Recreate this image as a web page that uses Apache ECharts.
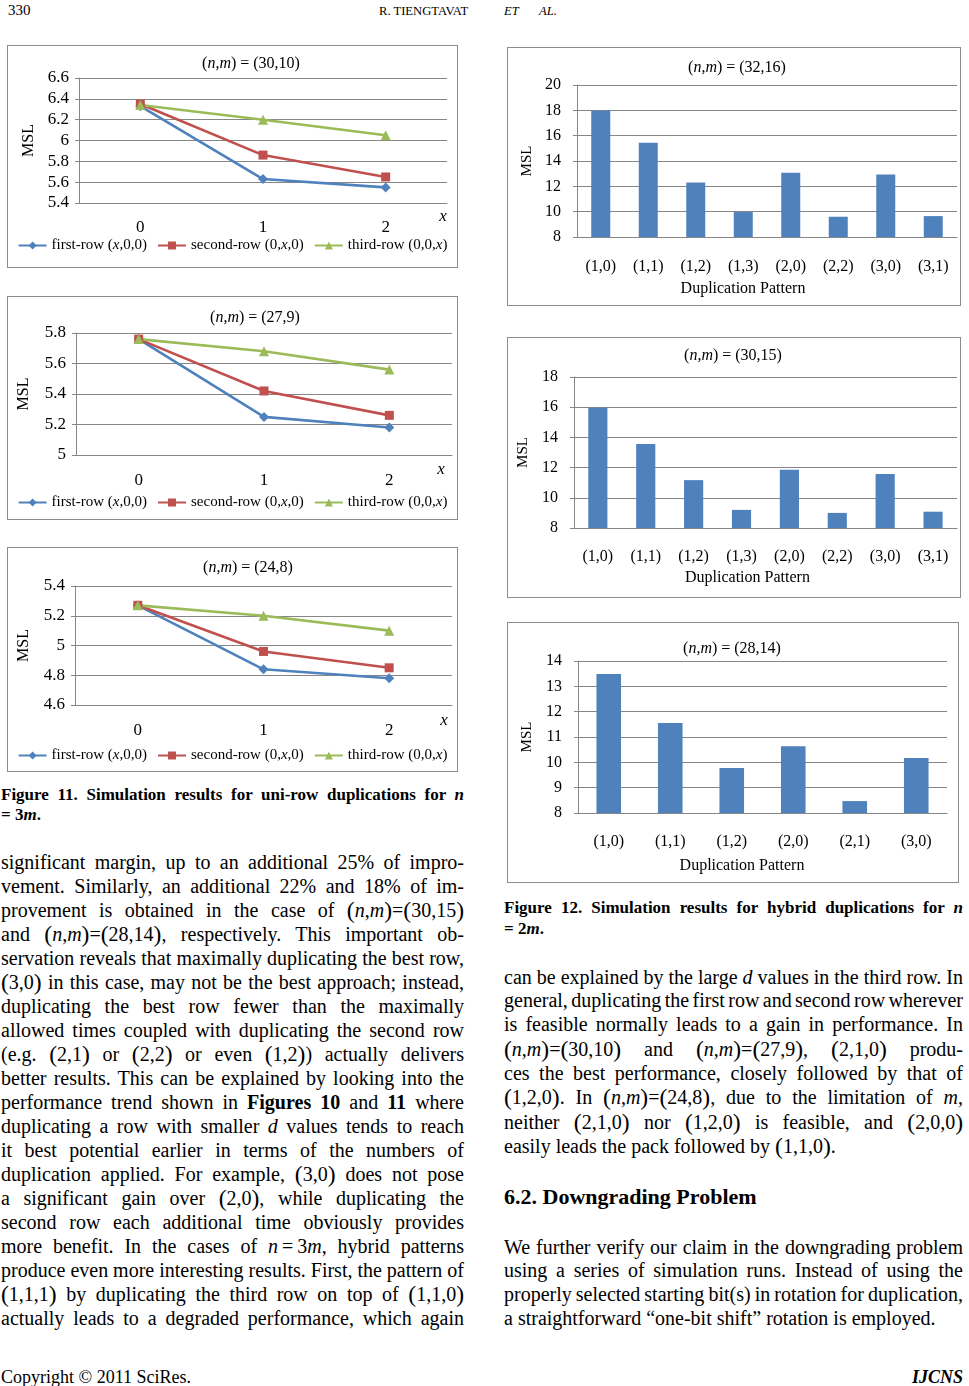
<!DOCTYPE html>
<html>
<head>
<meta charset="utf-8">
<script src="https://cdn.jsdelivr.net/npm/echarts/dist/echarts.min.js"></script>
<style>
  html,body{margin:0;padding:0;}
  body{width:969px;height:1386px;background:#fff;position:relative;overflow:hidden;
       font-family:'Liberation Serif','Times New Roman',serif;color:#000;}
  .box{position:absolute;border:1px solid #8c8c8c;box-sizing:border-box;}
  .ln{position:absolute;height:24px;line-height:24px;font-size:20px;white-space:nowrap;text-align:left;}
  .cap{font-size:17px;font-weight:bold;}
  .L{left:1px;width:463px;}
  .R{left:504px;width:459px;}
  .pa{font-size:1.18em;line-height:0;vertical-align:-0.04em;}
  .hd{position:absolute;font-size:22px;font-weight:bold;line-height:26px;}
  .abs{position:absolute;white-space:nowrap;}
</style>
</head>
<body>
<div class="abs" style="left:8px;top:1px;font-size:15px;line-height:18px;">330</div>
<div class="abs" style="left:379px;top:2px;font-size:12.6px;line-height:18px;">R. TIENGTAVAT</div>
<div class="abs" style="left:504px;top:2px;font-size:12.6px;line-height:18px;font-style:italic;">ET</div>
<div class="abs" style="left:539px;top:2px;font-size:12.6px;line-height:18px;font-style:italic;">AL.</div>

<div id="c1" class="box" style="left:7px;top:45px;width:451px;height:223px;"></div>
<div id="c2" class="box" style="left:7px;top:296px;width:451px;height:224px;"></div>
<div id="c3" class="box" style="left:7px;top:547px;width:451px;height:225px;"></div>
<div id="b1" class="box" style="left:507px;top:47px;width:454px;height:259px;"></div>
<div id="b2" class="box" style="left:507px;top:337px;width:454px;height:261px;"></div>
<div id="b3" class="box" style="left:507px;top:622px;width:452px;height:261px;"></div>

<div id="text"></div>

<script>
// ---------- DATA ----------
const lineCategories = ['0', '1', '2'];
const lineSeriesNames = ['first-row (x,0,0)', 'second-row (0,x,0)', 'third-row (0,0,x)'];

const title1 = '({i|n},{i|m}) = (30,10)';
const firstRow1  = [6.33, 5.63, 5.55];
const secondRow1 = [6.35, 5.86, 5.65];
const thirdRow1  = [6.34, 6.20, 6.05];

const title2 = '({i|n},{i|m}) = (27,9)';
const firstRow2  = [5.76, 5.25, 5.18];
const secondRow2 = [5.76, 5.42, 5.26];
const thirdRow2  = [5.76, 5.68, 5.56];

const title3 = '({i|n},{i|m}) = (24,8)';
const firstRow3  = [5.27, 4.84, 4.78];
const secondRow3 = [5.27, 4.96, 4.85];
const thirdRow3  = [5.27, 5.20, 5.10];

const barCategoriesA = ['(1,0)', '(1,1)', '(1,2)', '(1,3)', '(2,0)', '(2,2)', '(3,0)', '(3,1)'];
const barCategoriesB = ['(1,0)', '(1,1)', '(1,2)', '(2,0)', '(2,1)', '(3,0)'];

const barTitle1 = '({i|n},{i|m}) = (32,16)';
const barValues1 = [17.98, 15.45, 12.30, 9.97, 13.07, 9.60, 12.93, 9.65];

const barTitle2 = '({i|n},{i|m}) = (30,15)';
const barValues2 = [15.96, 13.56, 11.17, 9.20, 11.85, 9.00, 11.58, 9.08];

const barTitle3 = '({i|n},{i|m}) = (28,14)';
const barValues3 = [13.49, 11.55, 9.78, 10.63, 8.47, 10.17];

// ---------- STYLE ----------
const FONT = "'Liberation Serif','Times New Roman',serif";
const GRAY = '#868686';
const LINE_COLORS = ['#4F81BD', '#C0504D', '#9BBB59'];
const SYMBOLS = ['diamond', 'rect', 'triangle'];
const SYMBOL_SIZES = [10, 9, 10];

function titleOpt(text, x, y) {
  return {
    text: text, left: x, top: y, textAlign: 'center',
    textStyle: {fontFamily: FONT, fontSize: 16, fontWeight: 'normal', color: '#000', lineHeight: 18,
      rich: {i: {fontFamily: FONT, fontSize: 16, fontStyle: 'italic', color: '#000', lineHeight: 18}}}
  };
}

function lineChart(id, title, rows, yMin, yMax, L) {
  const chart = echarts.init(document.getElementById(id));
  chart.setOption({
    animation: false,
    title: titleOpt(title, L.tx, L.ty - 14),
    legend: {
      top: L.ly - 12, left: 'center', itemWidth: 28, itemHeight: 10, itemGap: 10,
      data: lineSeriesNames,
      formatter: n => n.replace(/\bx\b/, '{i|x}'),
      textStyle: {fontFamily: FONT, fontSize: 15, color: '#000',
        rich: {i: {fontFamily: FONT, fontSize: 15, fontStyle: 'italic', color: '#000'}}}
    },
    grid: {left: L.gl, right: L.gr, top: L.gt, bottom: L.gb},
    xAxis: {
      type: 'category', data: lineCategories, boundaryGap: true,
      axisLine: {lineStyle: {color: GRAY}},
      axisTick: {length: 5, lineStyle: {color: GRAY}},
      axisLabel: {margin: L.xm, fontFamily: FONT, fontSize: 17, color: '#000'}
    },
    yAxis: {
      type: 'value', min: yMin, max: yMax, interval: 0.2,
      name: 'MSL', nameLocation: 'middle', nameGap: L.ng,
      nameTextStyle: {fontFamily: FONT, fontSize: 16, color: '#000'},
      axisLine: {show: true, lineStyle: {color: GRAY}},
      axisTick: {show: true, length: 4, lineStyle: {color: GRAY}},
      axisLabel: {margin: 10, fontFamily: FONT, fontSize: 17, color: '#000'},
      splitLine: {lineStyle: {color: GRAY, width: 1}}
    },
    graphic: [{
      type: 'text', x: L.xx, y: L.xy,
      style: {text: 'x', font: 'italic 17px ' + FONT, fill: '#000',
        textAlign: 'center', textVerticalAlign: 'middle', align: 'center', verticalAlign: 'middle'}
    }],
    series: rows.map((d, i) => ({
      name: lineSeriesNames[i], type: 'line', data: d,
      color: LINE_COLORS[i], symbol: SYMBOLS[i], symbolSize: SYMBOL_SIZES[i],
      lineStyle: {width: 2.6, color: LINE_COLORS[i]},
      itemStyle: {color: LINE_COLORS[i]}
    }))
  });
}

function barChart(id, title, cats, values, yMin, yMax, step, L) {
  const chart = echarts.init(document.getElementById(id));
  chart.setOption({
    animation: false,
    title: titleOpt(title, L.tx, L.ty - 14),
    grid: {left: L.gl, right: L.gr, top: L.gt, bottom: L.gb},
    xAxis: {
      type: 'category', data: cats, boundaryGap: true,
      name: 'Duplication Pattern', nameLocation: 'middle', nameGap: L.ng2,
      nameTextStyle: {fontFamily: FONT, fontSize: 16, color: '#000', padding: [0, L.np, 0, 0]},
      axisLine: {lineStyle: {color: GRAY}},
      axisTick: {length: 5, lineStyle: {color: GRAY}},
      axisLabel: {margin: L.xm, fontFamily: FONT, fontSize: 16, color: '#000'}
    },
    yAxis: {
      type: 'value', min: yMin, max: yMax, interval: step,
      name: 'MSL', nameLocation: 'middle', nameGap: L.ng,
      nameTextStyle: {fontFamily: FONT, fontSize: 15, color: '#000'},
      axisLine: {show: true, lineStyle: {color: GRAY}},
      axisTick: {show: true, length: 4, lineStyle: {color: GRAY}},
      axisLabel: {margin: 16, fontFamily: FONT, fontSize: 16, color: '#000'},
      splitLine: {lineStyle: {color: GRAY, width: 1}}
    },
    series: [{type: 'bar', data: values, barWidth: '40%', itemStyle: {color: '#4F81BD'}}]
  });
}

lineChart('c1', title1, [firstRow1, secondRow1, thirdRow1], 5.4, 6.6,
  {tx: 238, ty: 18, ly: 199, gl: 71, gr: 10, gt: 32, gb: 64, xm: 16, ng: 42, xx: 435, xy: 171});
lineChart('c2', title2, [firstRow2, secondRow2, thirdRow2], 5.0, 5.8,
  {tx: 242, ty: 21, ly: 205, gl: 65, gr: 5, gt: 36, gb: 64, xm: 17, ng: 44, xx: 433, xy: 173});
lineChart('c3', title3, [firstRow3, secondRow3, thirdRow3], 4.6, 5.4,
  {tx: 235, ty: 20, ly: 207, gl: 66, gr: 5, gt: 38, gb: 66, xm: 17, ng: 43, xx: 436, xy: 173});

barChart('b1', barTitle1, barCategoriesA, barValues1, 8, 20, 2,
  {tx: 224, ty: 20, gl: 69, gr: 3, gt: 37, gb: 68, xm: 22, ng: 40, ng2: 44, np: 48});
barChart('b2', barTitle2, barCategoriesA, barValues2, 8, 18, 2,
  {tx: 220, ty: 18, gl: 65, gr: 3, gt: 39, gb: 69, xm: 21, ng: 42, ng2: 42, np: 36});
barChart('b3', barTitle3, barCategoriesB, barValues3, 8, 14, 1,
  {tx: 219, ty: 26, gl: 70, gr: 11, gt: 38, gb: 69, xm: 21, ng: 43, ng2: 45, np: 41});

// ---------- PAGE TEXT ----------
const P = s => '<span class="pa">(</span>' + s + '<span class="pa">)</span>';
const nm = P('<i>n</i>,<i>m</i>');

const leftLines = [
  [862, 'significant margin, up to an additional 25% of impro-'],
  [886, 'vement. Similarly, an additional 22% and 18% of im-'],
  [910, 'provement is obtained in the case of ' + nm + '=' + P('30,15')],
  [934, 'and ' + nm + '=' + P('28,14') + ', respectively. This important ob-'],
  [958, 'servation reveals that maximally duplicating the best row,'],
  [982, P('3,0') + ' in this case, may not be the best approach; instead,'],
  [1006, 'duplicating the best row fewer than the maximally'],
  [1030, 'allowed times coupled with duplicating the second row'],
  [1054, '(e.g. ' + P('2,1') + ' or ' + P('2,2') + ' or even ' + P('1,2') + ') actually delivers'],
  [1078, 'better results. This can be explained by looking into the'],
  [1102, 'performance trend shown in <b>Figures 10</b> and <b>11</b> where'],
  [1126, 'duplicating a row with smaller <i>d</i> values tends to reach'],
  [1150, 'it best potential earlier in terms of the numbers of'],
  [1174, 'duplication applied. For example, ' + P('3,0') + ' does not pose'],
  [1198, 'a significant gain over ' + P('2,0') + ', while duplicating the'],
  [1222, 'second row each additional time obviously provides'],
  [1246, 'more benefit. In the cases of <i>n</i>\u2009=\u20093<i>m</i>, hybrid patterns'],
  [1270, 'produce even more interesting results. First, the pattern of'],
  [1294, P('1,1,1') + ' by duplicating the third row on top of ' + P('1,1,0')],
  [1318, 'actually leads to a degraded performance, which again']
];
const rightLines = [
  [977, 'can be explained by the large <i>d</i> values in the third row. In'],
  [1000, 'general, duplicating the first row and second row wherever'],
  [1024, 'is feasible normally leads to a gain in performance. In'],
  [1049, nm + '=' + P('30,10') + ' and ' + nm + '=' + P('27,9') + ', ' + P('2,1,0') + ' produ-'],
  [1073, 'ces the best performance, closely followed by that of'],
  [1097, P('1,2,0') + '. In ' + nm + '=' + P('24,8') + ', due to the limitation of <i>m</i>,'],
  [1122, 'neither ' + P('2,1,0') + ' nor ' + P('1,2,0') + ' is feasible, and ' + P('2,0,0')],
  [1146, 'easily leads the pack followed by ' + P('1,1,0') + '.', true],
  [1247, 'We further verify our claim in the downgrading problem'],
  [1270, 'using a series of simulation runs. Instead of using the'],
  [1294, 'properly selected starting bit(s) in rotation for duplication,'],
  [1318, 'a straightforward \u201cone-bit shift\u201d rotation is employed.', true]
];

let html = '';
function addLine(cls, y, content, last) {
  html += '<div class="ln ' + cls + (last ? '' : ' just') + '" style="top:' + (y - 12) + 'px"><span>' + content + '</span></div>';
}
addLine('cap L', 795, 'Figure 11. Simulation results for uni-row duplications for <i>n</i>', false);
addLine('cap L', 815, '= 3<i>m</i>.', true);
addLine('cap R', 908, 'Figure 12. Simulation results for hybrid duplications for <i>n</i>', false);
addLine('cap R', 929, '= 2<i>m</i>.', true);
leftLines.forEach(l => addLine('L', l[0], l[1], l[2]));
rightLines.forEach(l => addLine('R', l[0], l[1], l[2]));
html += '<div class="hd" style="left:504px;top:' + (1197 - 13) + 'px">6.2. Downgrading Problem</div>';
html += '<div class="abs" style="left:1px;top:' + (1377 - 11) + 'px;font-size:18px;line-height:22px;">Copyright \u00a9 2011 SciRes.</div>';
html += '<div class="abs" style="right:6px;top:' + (1377 - 11) + 'px;font-size:18px;line-height:22px;font-weight:bold;font-style:italic;">IJCNS</div>';
document.getElementById('text').innerHTML = html;

// manual justification: spread the gap over the word spaces of each line
document.querySelectorAll('.ln.just').forEach(div => {
  const span = div.firstChild;
  const W = div.clientWidth;
  const w = span.getBoundingClientRect().width;
  const n = (span.textContent.trim().match(/ /g) || []).length;
  if (n > 0) span.style.wordSpacing = ((W - w) / n) + 'px';
});
</script>
</body>
</html>
